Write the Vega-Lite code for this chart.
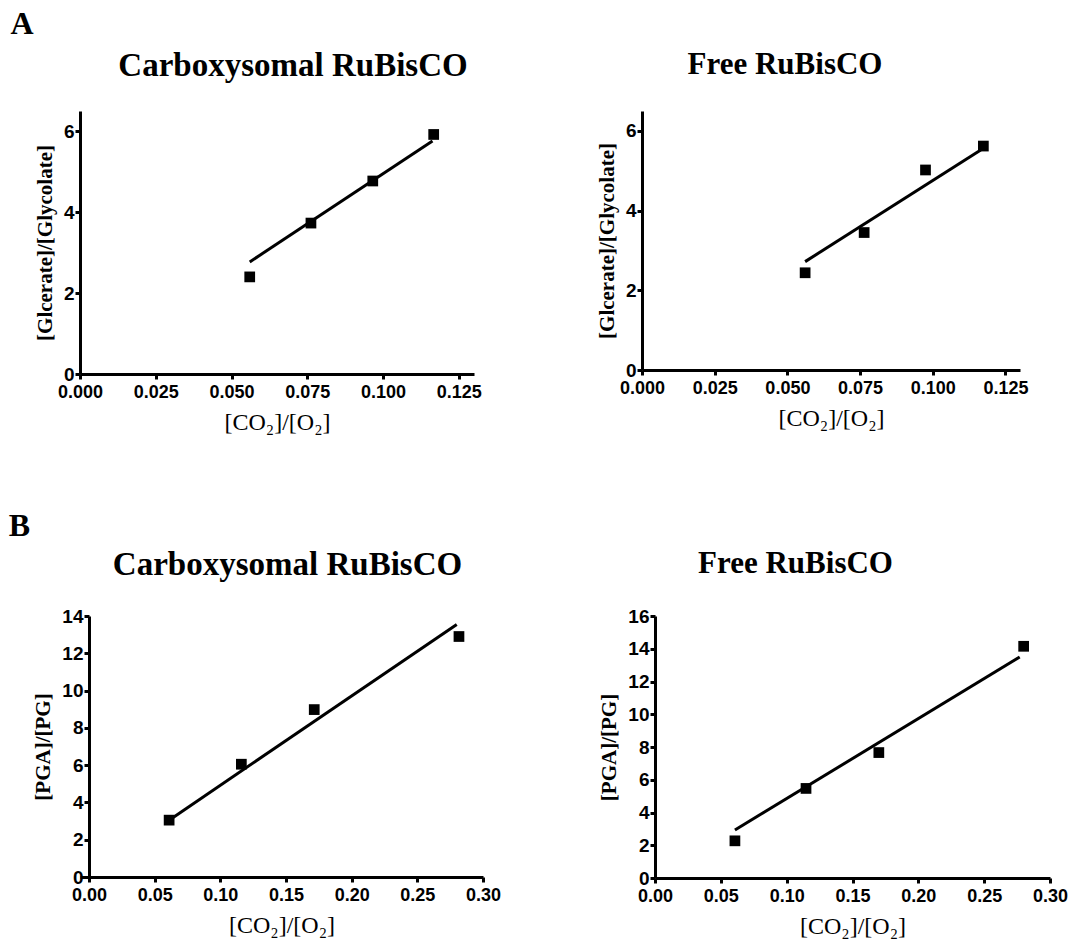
{
  "$schema": "https://vega.github.io/schema/vega-lite/v6.json",
  "background": "white",
  "padding": {"left": 8, "top": 8, "right": 5, "bottom": 5},
  "config": {
    "view": {"stroke": null},
    "axis": {
      "grid": false,
      "domainColor": "black",
      "domainWidth": 3,
      "tickColor": "black",
      "tickWidth": 3,
      "tickSize": 5,
      "tickCount": 30,
      "labelFont": "Liberation Sans",
      "labelFontWeight": "bold",
      "labelFontSize": 18,
      "labelColor": "black",
      "labelPadding": 2,
      "labelFlush": false,
      "labelOverlap": false,
      "titleFont": "Liberation Serif",
      "titleColor": "black"
    },
    "axisX": {"titleFontWeight": "normal", "titleFontSize": 24, "titlePadding": 9, "labelPadding": 4},
    "axisY": {"titleFontWeight": "bold", "titleFontSize": 21, "titlePadding": 8, "labelFontSize": 19, "labelPadding": 1, "format": "d"},
    "title": {"font": "Liberation Serif", "fontWeight": "bold", "color": "black"}
  },
  "data": {
    "values": [
      {"panel": "AL", "kind": "obs", "x": 0.056, "y": 2.40},
      {"panel": "AL", "kind": "obs", "x": 0.0762, "y": 3.73},
      {"panel": "AL", "kind": "obs", "x": 0.0966, "y": 4.77},
      {"panel": "AL", "kind": "obs", "x": 0.1167, "y": 5.92},
      {"panel": "AL", "kind": "fit", "x": 0.056, "y": 2.77},
      {"panel": "AL", "kind": "fit", "x": 0.1163, "y": 5.76},
      {"panel": "AR", "kind": "obs", "x": 0.0561, "y": 2.44},
      {"panel": "AR", "kind": "obs", "x": 0.0764, "y": 3.45},
      {"panel": "AR", "kind": "obs", "x": 0.0975, "y": 5.02},
      {"panel": "AR", "kind": "obs", "x": 0.1174, "y": 5.62},
      {"panel": "AR", "kind": "fit", "x": 0.0561, "y": 2.72},
      {"panel": "AR", "kind": "fit", "x": 0.1165, "y": 5.52},
      {"panel": "BL", "kind": "obs", "x": 0.061, "y": 3.05},
      {"panel": "BL", "kind": "obs", "x": 0.116, "y": 6.05},
      {"panel": "BL", "kind": "obs", "x": 0.1715, "y": 8.98},
      {"panel": "BL", "kind": "obs", "x": 0.2817, "y": 12.9},
      {"panel": "BL", "kind": "fit", "x": 0.061, "y": 3.05},
      {"panel": "BL", "kind": "fit", "x": 0.280, "y": 13.55},
      {"panel": "BR", "kind": "obs", "x": 0.0607, "y": 2.27},
      {"panel": "BR", "kind": "obs", "x": 0.1147, "y": 5.47},
      {"panel": "BR", "kind": "obs", "x": 0.170, "y": 7.66},
      {"panel": "BR", "kind": "obs", "x": 0.280, "y": 14.15},
      {"panel": "BR", "kind": "fit", "x": 0.0607, "y": 2.93},
      {"panel": "BR", "kind": "fit", "x": 0.277, "y": 13.5}
    ]
  },
  "columns": 1,
  "align": "none",
  "spacing": 76,
  "concat": [
    {
      "title": {"text": "A", "anchor": "start", "fontSize": 32, "dx": -24, "offset": 8},
      "spacing": 114,
      "hconcat": [
        {
          "width": 394, "height": 263,
          "title": {"text": "Carboxysomal RuBisCO", "fontSize": 33, "dx": 16, "offset": 28},
          "transform": [{"filter": "datum.panel === 'AL'"}],
          "layer": [
            {
              "transform": [{"filter": "datum.kind === 'fit'"}],
              "mark": {"type": "line", "color": "black", "strokeWidth": 3},
              "encoding": {
                "x": {"field": "x", "type": "quantitative", "scale": {"domain": [0, 0.13], "nice": false}, "axis": {"values": [0, 0.025, 0.05, 0.075, 0.1, 0.125], "format": ".3f", "title": "[CO₂]/[O₂]"}},
                "y": {"field": "y", "type": "quantitative", "scale": {"domain": [0, 6.5], "nice": false}, "axis": {"values": [0, 2, 4, 6], "title": "[Glcerate]/[Glycolate]"}}
              }
            },
            {
              "transform": [{"filter": "datum.kind === 'obs'"}],
              "mark": {"type": "point", "shape": "square", "filled": true, "color": "black", "size": 115, "opacity": 1},
              "encoding": {
                "x": {"field": "x", "type": "quantitative"},
                "y": {"field": "y", "type": "quantitative"}
              }
            }
          ]
        },
        {
          "width": 378, "height": 259,
          "title": {"text": "Free RuBisCO", "fontSize": 31, "dx": -46, "offset": 30},
          "transform": [{"filter": "datum.panel === 'AR'"}],
          "layer": [
            {
              "transform": [{"filter": "datum.kind === 'fit'"}],
              "mark": {"type": "line", "color": "black", "strokeWidth": 3},
              "encoding": {
                "x": {"field": "x", "type": "quantitative", "scale": {"domain": [0, 0.13], "nice": false}, "axis": {"values": [0, 0.025, 0.05, 0.075, 0.1, 0.125], "format": ".3f", "title": "[CO₂]/[O₂]"}},
                "y": {"field": "y", "type": "quantitative", "scale": {"domain": [0, 6.5], "nice": false}, "axis": {"values": [0, 2, 4, 6], "title": "[Glcerate]/[Glycolate]"}}
              }
            },
            {
              "transform": [{"filter": "datum.kind === 'obs'"}],
              "mark": {"type": "point", "shape": "square", "filled": true, "color": "black", "size": 115, "opacity": 1},
              "encoding": {
                "x": {"field": "x", "type": "quantitative"},
                "y": {"field": "y", "type": "quantitative"}
              }
            }
          ]
        }
      ]
    },
    {
      "title": {"text": "B", "anchor": "start", "fontSize": 32, "dx": -24, "offset": 5},
      "spacing": 97,
      "hconcat": [
        {
          "width": 403, "height": 261,
          "title": {"text": "Carboxysomal RuBisCO", "fontSize": 33, "dx": 6, "offset": 25},
          "transform": [{"filter": "datum.panel === 'BL'"}],
          "layer": [
            {
              "transform": [{"filter": "datum.kind === 'fit'"}],
              "mark": {"type": "line", "color": "black", "strokeWidth": 3},
              "encoding": {
                "x": {"field": "x", "type": "quantitative", "scale": {"domain": [-0.00686, 0.3], "nice": false, "zero": false}, "axis": {"values": [0, 0.05, 0.1, 0.15, 0.2, 0.25, 0.3], "format": ".2f", "title": "[CO₂]/[O₂]"}},
                "y": {"field": "y", "type": "quantitative", "scale": {"domain": [0, 14], "nice": false}, "axis": {"values": [0, 2, 4, 6, 8, 10, 12, 14], "title": "[PGA]/[PG]", "offset": -9}}
              }
            },
            {
              "transform": [{"filter": "datum.kind === 'obs'"}],
              "mark": {"type": "point", "shape": "square", "filled": true, "color": "black", "size": 115, "opacity": 1},
              "encoding": {
                "x": {"field": "x", "type": "quantitative"},
                "y": {"field": "y", "type": "quantitative"}
              }
            }
          ]
        },
        {
          "width": 395, "height": 262,
          "title": {"text": "Free RuBisCO", "fontSize": 31, "dx": -57, "offset": 27},
          "transform": [{"filter": "datum.panel === 'BR'"}],
          "layer": [
            {
              "transform": [{"filter": "datum.kind === 'fit'"}],
              "mark": {"type": "line", "color": "black", "strokeWidth": 3},
              "encoding": {
                "x": {"field": "x", "type": "quantitative", "scale": {"domain": [0, 0.3], "nice": false}, "axis": {"values": [0, 0.05, 0.1, 0.15, 0.2, 0.25, 0.3], "format": ".2f", "title": "[CO₂]/[O₂]"}},
                "y": {"field": "y", "type": "quantitative", "scale": {"domain": [0, 16], "nice": false}, "axis": {"values": [0, 2, 4, 6, 8, 10, 12, 14, 16], "title": "[PGA]/[PG]"}}
              }
            },
            {
              "transform": [{"filter": "datum.kind === 'obs'"}],
              "mark": {"type": "point", "shape": "square", "filled": true, "color": "black", "size": 115, "opacity": 1},
              "encoding": {
                "x": {"field": "x", "type": "quantitative"},
                "y": {"field": "y", "type": "quantitative"}
              }
            }
          ]
        }
      ]
    }
  ]
}
